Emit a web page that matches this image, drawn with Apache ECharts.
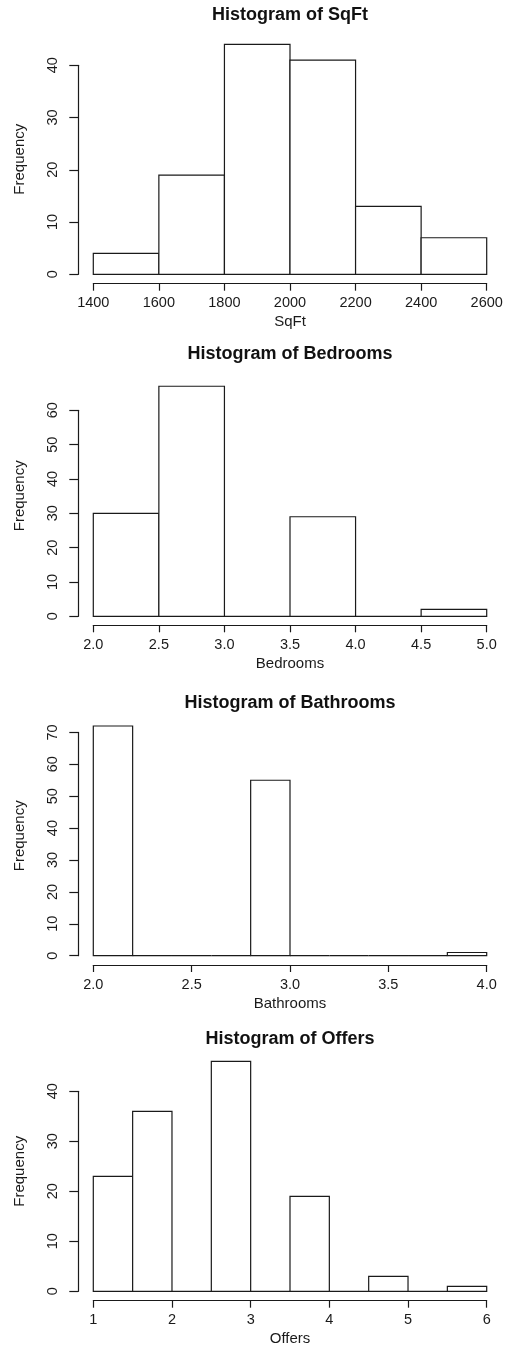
<!DOCTYPE html>
<html>
<head>
<meta charset="utf-8">
<script src="https://cdn.jsdelivr.net/npm/echarts@6/dist/echarts.min.js"></script>
<style>
html,body{margin:0;padding:0;background:#fff;}
#chart{width:512px;height:1352px;}
</style>
</head>
<body>
<div id="chart"></div>
<script>
// ---- data ----
const sqftBreaks = [1400, 1600, 1800, 2000, 2200, 2400, 2600];
const sqftCounts = [4, 19, 44, 41, 13, 7];
const bedBreaks = [2.0, 2.5, 3.0, 3.5, 4.0, 4.5, 5.0];
const bedCounts = [30, 67, 0, 29, 0, 2];
const bathBreaks = [2.0, 2.2, 2.4, 2.6, 2.8, 3.0, 3.2, 3.4, 3.6, 3.8, 4.0];
const bathCounts = [72, 0, 0, 0, 55, 0, 0, 0, 0, 1];
const offerBreaks = [1, 1.5, 2, 2.5, 3, 3.5, 4, 4.5, 5, 5.5, 6];
const offerCounts = [23, 36, 0, 46, 0, 19, 0, 3, 0, 1];
const titles = ['Histogram of SqFt', 'Histogram of Bedrooms', 'Histogram of Bathrooms', 'Histogram of Offers'];
const xNames = ['SqFt', 'Bedrooms', 'Bathrooms', 'Offers'];
const yName = 'Frequency';
const xTickStep = [200, 0.5, 0.5, 1];
const xDecimals = [0, 1, 1, 0];
const yTickStep = 10;
const yTickMax = [40, 60, 70, 40];

const panels = [
  {breaks: sqftBreaks, counts: sqftCounts},
  {breaks: bedBreaks, counts: bedCounts},
  {breaks: bathBreaks, counts: bathCounts},
  {breaks: offerBreaks, counts: offerCounts}
];

// ---- layout (pixels) ----
const H = 1352;
const plotLeft = 93.3, plotRight = 486.7;
const zeroY = [274.3, 616.3, 955.7, 1291.3];     // pixel of y = 0
const topTickY = [65.3, 410.3, 732.4, 1091.3];   // pixel of top y tick
const xAxisLineY = [283.7, 625.3, 965, 1300.7];
const titleY = [15, 354.5, 702.7, 1038.7];
const yNameY = [159.2, 495.8, 835.8, 1171.3];
const yAxisLineX = 78.3;
const FONT = 'Liberation Sans';
const INK = '#1a1a1a';

const grids = [], xAxes = [], yAxes = [], series = [], graphics = [];
panels.forEach((p, i) => {
  grids.push({left: plotLeft, right: 512 - plotRight, top: topTickY[i], bottom: H - zeroY[i], containLabel: false});
  xAxes.push({
    gridIndex: i, type: 'value',
    min: p.breaks[0], max: p.breaks[p.breaks.length - 1], interval: xTickStep[i],
    offset: xAxisLineY[i] - zeroY[i],
    axisLine: {show: true, onZero: false, lineStyle: {color: INK, width: 1.2}},
    axisTick: {show: true, length: 7, lineStyle: {color: INK, width: 1.2}},
    axisLabel: {show: true, margin: 12, color: INK, fontFamily: FONT, fontSize: 14.5,
      showMinLabel: true, showMaxLabel: true,
      formatter: (v) => Number(v).toFixed(xDecimals[i])},
    splitLine: {show: false},
    name: xNames[i], nameLocation: 'middle', nameGap: 31,
    nameTextStyle: {color: INK, fontFamily: FONT, fontSize: 15}
  });
  yAxes.push({
    gridIndex: i, type: 'value', min: 0, max: yTickMax[i], interval: yTickStep,
    offset: plotLeft - yAxisLineX,
    axisLine: {show: true, lineStyle: {color: INK, width: 1.2}},
    axisTick: {show: true, length: 9, lineStyle: {color: INK, width: 1.2}},
    axisLabel: {show: true, rotate: 90, margin: 18, color: INK, fontFamily: FONT, fontSize: 14.5,
      showMinLabel: true, showMaxLabel: true},
    splitLine: {show: false}
  });
  const data = p.counts.map((c, k) => [p.breaks[k], p.breaks[k + 1], c]);
  series.push({
    type: 'custom', xAxisIndex: i, yAxisIndex: i, clip: false,
    encode: {x: [0, 1], y: 2},
    data: data,
    renderItem: function (params, api) {
      const a = api.coord([api.value(0), api.value(2)]);
      const b = api.coord([api.value(1), 0]);
      return {type: 'rect', shape: {x: a[0], y: a[1], width: b[0] - a[0], height: b[1] - a[1]},
        style: {fill: '#fff', stroke: INK, lineWidth: 1.2}};
    }
  });
  graphics.push({type: 'text', x: (plotLeft + plotRight) / 2, y: titleY[i],
    style: {text: titles[i], fill: '#111', font: 'bold 18px "' + FONT + '"', align: 'center', verticalAlign: 'middle'}});
  graphics.push({type: 'text', x: 20, y: yNameY[i], rotation: Math.PI / 2,
    style: {text: yName, fill: INK, font: '15px "' + FONT + '"', align: 'center', verticalAlign: 'middle'}});
});

const chart = echarts.init(document.getElementById('chart'), null, {renderer: 'canvas'});
chart.setOption({
  animation: false,
  backgroundColor: '#fff',
  grid: grids, xAxis: xAxes, yAxis: yAxes, series: series, graphic: graphics
});
</script>
</body>
</html>
